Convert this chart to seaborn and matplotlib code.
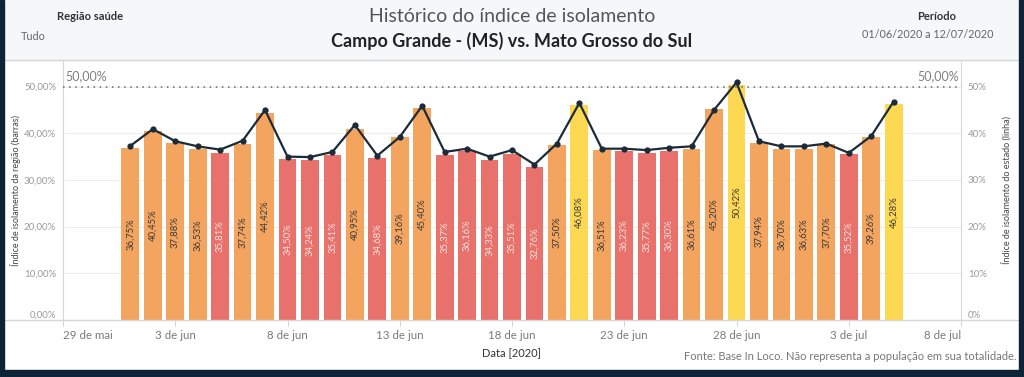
import numpy as np
import pandas as pd
import matplotlib.pyplot as plt
from matplotlib.patches import Rectangle
from matplotlib.lines import Line2D
import seaborn as sns

# ---------------- data ----------------
dates = pd.date_range('2020-06-01', '2020-07-05')
regiao = [36.75, 40.45, 37.88, 36.53, 35.81, 37.74, 44.42, 34.50, 34.24, 35.41,
          40.95, 34.68, 39.16, 45.40, 35.37, 36.16, 34.33, 35.51, 32.76, 37.50,
          46.08, 36.51, 36.23, 35.77, 36.30, 36.61, 45.20, 50.42, 37.94, 36.70,
          36.63, 37.70, 35.52, 39.26, 46.28]
estado = [37.3, 40.9, 38.3, 37.2, 36.5, 38.4, 45.0, 35.0, 34.9, 36.0,
          41.8, 35.2, 39.2, 45.9, 36.0, 36.7, 35.0, 36.4, 33.3, 37.8,
          46.5, 36.7, 36.7, 36.4, 36.9, 37.2, 45.0, 50.9, 38.3, 37.2,
          37.2, 37.8, 35.8, 39.4, 46.8]
tick_dates = pd.to_datetime(['2020-05-29', '2020-06-03', '2020-06-08', '2020-06-13',
                             '2020-06-18', '2020-06-23', '2020-06-28', '2020-07-03',
                             '2020-07-08'])
tick_labels = ['29 de mai', '3 de jun', '8 de jun', '13 de jun', '18 de jun',
               '23 de jun', '28 de jun', '3 de jul', '8 de jul']
left_ticks = [0, 10, 20, 30, 40, 50]
left_labels = ['0,00%', '10,00%', '20,00%', '30,00%', '40,00%', '50,00%']
right_labels = ['0%', '10%', '20%', '30%', '40%', '50%']
referencia = 50

cores = {'baixo': '#e9716b', 'medio': '#f3a45f', 'alto': '#fdd853'}
texto_cor = {'baixo': '#fbe3e1', 'medio': '#3a3a3a', 'alto': '#3a3a3a'}

dia0 = dates[0]
df = pd.DataFrame({'dia': (dates - dia0).days, 'regiao': regiao, 'estado': estado})
df['faixa'] = np.where(df['regiao'] < 36.5, 'baixo',
                       np.where(df['regiao'] < 46, 'medio', 'alto'))

# ---------------- figure ----------------
W, H = 1024, 377
fig = plt.figure(figsize=(W / 100, H / 100), dpi=100)
fig.patch.set_facecolor('white')
plt.rcParams['font.family'] = ['Lato', 'DejaVu Sans']

def fx(px):
    return px / W

def fy(py):
    return 1 - py / H

# header background + frame
fig.patches.append(Rectangle((0, fy(60)), 1, 60 / H, transform=fig.transFigure,
                             color='#f6f7f9', zorder=0))
navy = '#0e2336'
fig.patches.append(Rectangle((0, 0), fx(4), 1, transform=fig.transFigure, color=navy, zorder=5))
fig.patches.append(Rectangle((fx(1019), 0), fx(5), 1, transform=fig.transFigure, color=navy, zorder=5))
fig.patches.append(Rectangle((0, 0), 1, 7 / H, transform=fig.transFigure, color=navy, zorder=5))
fig.lines.append(Line2D([0, 1], [fy(60), fy(60)], transform=fig.transFigure, color='#d6d6d6', lw=1))
fig.lines.append(Line2D([0, 1], [fy(320), fy(320)], transform=fig.transFigure, color='#d6d6d6', lw=1))

ax = fig.add_axes([fx(63), fy(320), fx(961 - 63), (320 - 60) / H])
ax.set_facecolor('white')

sns.barplot(data=df, x='dia', y='regiao', hue='faixa', palette=cores, native_scale=True,
            dodge=False, width=0.79, errorbar=None, legend=False, saturation=1,
            ax=ax, zorder=2)

ax2 = ax.twinx()
sns.lineplot(data=df, x='dia', y='estado', ax=ax2, color='#1d2b39', lw=1.6,
             marker='o', markersize=4.5, markeredgewidth=0, zorder=4)

ymax = 55.7
xlo = (tick_dates[0] - dia0).days
xhi = (tick_dates[-1] - dia0).days
for a in (ax, ax2):
    a.set_ylim(0, ymax)
    a.set_xlim(xlo, xhi)
    a.set_xlabel('')
    a.set_ylabel('')
    for s in a.spines.values():
        s.set_visible(False)

ax.spines['left'].set_visible(True)
ax.spines['left'].set_color('#d6d6d6')
ax2.spines['right'].set_visible(True)
ax2.spines['right'].set_color('#d6d6d6')

# grid + reference line
for t in left_ticks[1:]:
    ax.axhline(t, color='#ededed', lw=0.8, zorder=0)
ax2.axhline(referencia, color='#666666', lw=1.1, ls=(0, (1, 3)), zorder=3)
ax2.text(xlo + 0.1, referencia + 0.9, '50,00%', ha='left', va='bottom', fontsize=9, color='#808080')
ax2.text(xhi - 0.1, referencia + 0.9, '50,00%', ha='right', va='bottom', fontsize=9, color='#808080')

# bar labels
for d, v, f in zip(df['dia'], df['regiao'], df['faixa']):
    ax.text(d, v / 2, f'{v:.2f}%'.replace('.', ','), rotation=90, ha='center', va='center',
            fontsize=6.8, color=texto_cor[f], zorder=5)

# ticks
ax.set_yticks(left_ticks)
ax.set_yticklabels(left_labels)
ax.tick_params(axis='y', length=0, pad=5, labelsize=7, labelcolor='#9a9a9a')
ax2.set_yticks(left_ticks)
ax2.set_yticklabels(right_labels)
ax2.tick_params(axis='y', length=0, pad=5, labelsize=7, labelcolor='#9a9a9a')
ax.get_yticklabels()[0].set_va('bottom')
ax2.get_yticklabels()[0].set_va('bottom')

ax.set_xticks([(t - dia0).days for t in tick_dates])
ax.set_xticklabels(tick_labels)
ax.tick_params(axis='x', length=4, width=0.8, color='#d6d6d6', pad=3, labelsize=8.3,
               labelcolor='#7a7a7a')
labs = ax.get_xticklabels()
labs[0].set_ha('left')
labs[-1].set_ha('right')
ax2.tick_params(axis='x', length=0, labelbottom=False)

# axis titles
fig.text(fx(16), fy(190), 'Índice de isolamento da região (barras)', rotation=90,
         ha='center', va='center', fontsize=6.5, color='#444444')
fig.text(fx(1006), fy(190), 'Índice de isolamento do estado (linha)', rotation=90,
         ha='center', va='center', fontsize=6.5, color='#444444')
fig.text(0.5, fy(354), 'Data [2020]', ha='center', va='center', fontsize=8, color='#333333')
fig.text(fx(1016), fy(357), 'Fonte: Base In Loco. Não representa a população em sua totalidade.',
         ha='right', va='center', fontsize=8, color='#777777')

# header
fig.text(fx(90), fy(17), 'Região saúde', ha='center', va='center', fontsize=8,
         fontweight='bold', color='#333333')
fig.text(fx(21), fy(37), 'Tudo', ha='left', va='center', fontsize=7.8, color='#666666')
fig.text(fx(512), fy(16), 'Histórico do índice de isolamento', ha='center', va='center',
         fontsize=14, color='#555555')
fig.text(fx(512), fy(41), 'Campo Grande - (MS) vs. Mato Grosso do Sul', ha='center',
         va='center', fontsize=13, fontweight='bold', color='#222222')
fig.text(fx(937), fy(17), 'Período', ha='center', va='center', fontsize=8,
         fontweight='bold', color='#333333')
fig.text(fx(928), fy(35), '01/06/2020 a 12/07/2020', ha='center', va='center',
         fontsize=7.8, color='#666666')

fig.savefig('out.png', dpi=100, facecolor=fig.get_facecolor())
